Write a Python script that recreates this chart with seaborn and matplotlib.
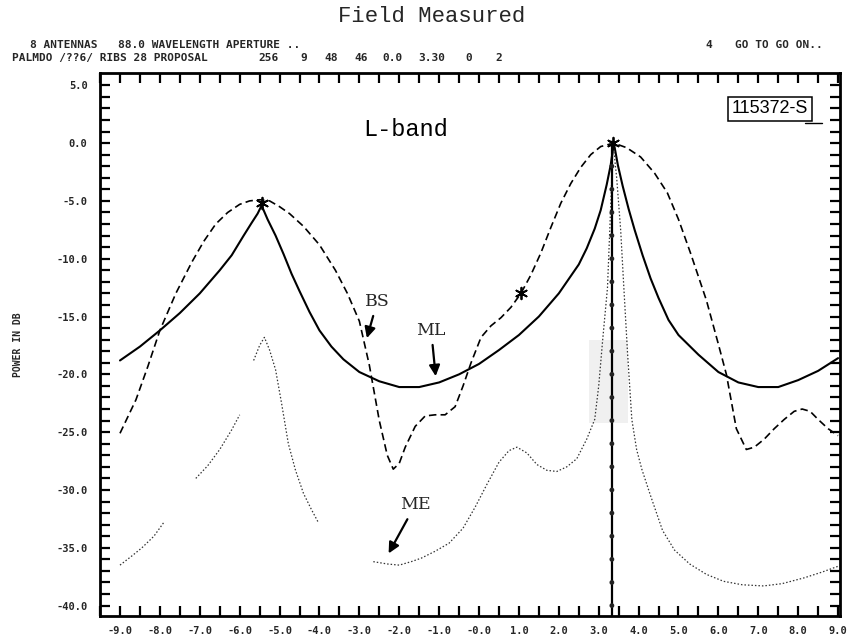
import numpy as np
import pandas as pd
import matplotlib
matplotlib.use("Agg")
import matplotlib.pyplot as plt
from matplotlib.patches import Rectangle
from matplotlib.lines import Line2D
import seaborn as sns

# ---- pattern data (angle in beamwidths, power in dB) ----
ml_angle = [-9.0, -8.5, -8.0, -7.5, -7.0, -6.5, -6.2, -5.9, -5.7, -5.55, -5.45, -5.3,
            -5.1, -4.9, -4.7, -4.5, -4.25, -4.0, -3.7, -3.4, -3.0, -2.5, -2.0, -1.5,
            -1.0, -0.5, 0.0, 0.5, 1.0, 1.5, 2.0, 2.5, 2.7, 2.9, 3.05, 3.2, 3.3, 3.38,
            3.48, 3.6, 3.75, 3.9, 4.1, 4.3, 4.5, 4.75, 5.0, 5.5, 6.0, 6.5, 7.0, 7.5,
            8.0, 8.5, 9.0]
ml_power = [-18.8, -17.6, -16.2, -14.7, -13.0, -11.0, -9.7, -8.0, -6.9, -6.1, -5.4, -6.6,
            -8.0, -9.6, -11.3, -12.8, -14.6, -16.2, -17.6, -18.7, -19.8, -20.6, -21.1, -21.1,
            -20.7, -20.0, -19.1, -17.9, -16.6, -15.0, -13.0, -10.5, -9.1, -7.4, -5.8, -3.6, -1.9, 0.0,
            -1.9, -3.7, -5.7, -7.5, -9.7, -11.7, -13.4, -15.3, -16.6, -18.3, -19.8, -20.7, -21.1, -21.1,
            -20.5, -19.7, -18.6]

bs_angle = [-9.0, -8.6, -8.3, -8.0, -7.6, -7.2, -6.9, -6.6, -6.3, -6.0, -5.75, -5.5,
            -5.25, -5.0, -4.75, -4.4, -4.0, -3.6, -3.3, -3.0, -2.75, -2.5, -2.3, -2.15,
            -2.0, -1.85, -1.6, -1.35, -1.1, -0.85, -0.6, -0.4, -0.2, 0.05, 0.3, 0.55,
            0.8, 1.05, 1.3, 1.55, 1.8, 2.05, 2.3, 2.55, 2.8, 3.05, 3.38, 3.7, 4.05,
            4.4, 4.72, 5.0, 5.3, 5.7, 6.0, 6.2, 6.45, 6.7, 6.9, 7.15, 7.4, 7.65, 7.9,
            8.1, 8.3, 8.5, 8.75, 9.0]
bs_power = [-25.1, -22.2, -19.3, -16.2, -13.0, -10.3, -8.5, -7.0, -6.0, -5.3, -5.0, -4.9,
            -5.0, -5.5, -6.1, -7.2, -8.8, -11.0, -13.0, -15.4, -19.2, -24.0, -27.0, -28.2,
            -27.7, -26.3, -24.5, -23.6, -23.5, -23.5, -22.8, -21.0, -19.0, -16.8, -15.8, -15.1,
            -14.2, -13.0, -11.4, -9.5, -7.3, -5.2, -3.5, -2.1, -1.0, -0.3, 0.0, -0.4, -1.2,
            -2.6, -4.3, -6.6, -9.5, -13.6, -17.4, -20.0, -24.7, -26.5, -26.3, -25.6, -24.7, -23.9, -23.2,
            -23.0, -23.2, -23.9, -24.7, -25.3]

# ME trace is plotted in pieces (pen lifts between them)
me_seg1_angle = [-9.0, -8.7, -8.45, -8.15, -7.9]
me_seg1_power = [-36.5, -35.7, -35.0, -34.0, -32.8]
me_seg2_angle = [-7.1, -6.8, -6.5, -6.2, -6.0]
me_seg2_power = [-29.0, -27.9, -26.5, -24.8, -23.5]
me_seg3_angle = [-5.65, -5.5, -5.38, -5.25, -5.1, -4.95, -4.78, -4.6, -4.4, -4.2, -4.03]
me_seg3_power = [-18.8, -17.5, -16.8, -17.9, -19.6, -22.5, -26.0, -28.3, -30.3, -31.7, -32.8]
me_seg4_angle = [-2.65, -2.3, -2.0, -1.7, -1.45, -1.1, -0.75, -0.4, -0.1, 0.2, 0.5, 0.75,
                 0.95, 1.2, 1.45, 1.7, 1.95, 2.2, 2.45, 2.7, 2.9, 3.0, 3.1, 3.22, 3.3, 3.36,
                 3.45, 3.55, 3.63, 3.72, 3.83, 3.95, 4.08, 4.3, 4.6, 4.9, 5.28, 5.7, 6.13,
                 6.6, 7.13, 7.6, 8.15, 8.6, 9.0]
me_seg4_power = [-36.2, -36.4, -36.5, -36.2, -35.9, -35.3, -34.6, -33.3, -31.5, -29.5, -27.6, -26.6,
                 -26.3, -26.8, -27.8, -28.3, -28.4, -28.0, -27.3, -25.6, -23.9, -21.0, -17.0, -12.5, -5.5, 0.0,
                 -3.0, -7.5, -12.5, -18.0, -23.9, -26.5, -28.2, -30.5, -33.5, -35.2, -36.4, -37.3, -37.9,
                 -38.2, -38.3, -38.1, -37.6, -37.1, -36.6]

# steering direction and measured levels along it
beam_angle = 3.33
beam_levels = [0, -2, -4, -6, -8, -10, -12, -14, -16, -18, -20, -22, -24, -26, -28,
               -30, -32, -34, -36, -38, -40]

# starred points
star_angle = [-5.45, 3.36, 1.05]
star_power = [-5.2, 0.0, -13.0]

x_ticks = [-9, -8, -7, -6, -5, -4, -3, -2, -1, 0, 1, 2, 3, 4, 5, 6, 7, 8, 9]
x_tick_labels = ["-9.0", "-8.0", "-7.0", "-6.0", "-5.0", "-4.0", "-3.0", "-2.0", "-1.0",
                 "-0.0", "1.0", "2.0", "3.0", "4.0", "5.0", "6.0", "7.0", "8.0", "9.0"]
y_ticks = [5, 0, -5, -10, -15, -20, -25, -30, -35, -40]
y_tick_labels = ["5.0", "0.0", "-5.0", "-10.0", "-15.0", "-20.0", "-25.0", "-30.0", "-35.0", "-40.0"]

# plotter header fields: (text, left edge in px, row)
header_fields = [
    ("8 ANTENNAS", 30, 0), ("88.0 WAVELENGTH APERTURE ..", 118, 0),
    ("4", 705, 0), ("GO TO GO ON..", 735, 0),
    ("PALMDO /??6/ RIBS 28 PROPOSAL", 12, 1), ("256", 258, 1), ("9", 300, 1),
    ("48", 324, 1), ("46", 354, 1), ("0.0", 382, 1), ("3.30", 418, 1),
    ("0", 465, 1), ("2", 495, 1),
]

# ---- figure ----
sns.set_theme(style="white")
plt.rcParams["font.family"] = ["DejaVu Sans"]

fig = plt.figure(figsize=(8.58, 6.41), dpi=100)
ax = fig.add_axes([0.1166, 0.039, 0.8625, 0.8471])

ml_df = pd.DataFrame({"angle": ml_angle, "power": ml_power})
bs_df = pd.DataFrame({"angle": bs_angle, "power": bs_power})
me_parts = []
for k, (a, p) in enumerate([(me_seg1_angle, me_seg1_power), (me_seg2_angle, me_seg2_power),
                            (me_seg3_angle, me_seg3_power), (me_seg4_angle, me_seg4_power)]):
    me_parts.append(pd.DataFrame({"angle": a, "power": p, "seg": k}))
me_df = pd.concat(me_parts, ignore_index=True)

sns.lineplot(data=ml_df, x="angle", y="power", sort=False, estimator=None,
             color="black", linewidth=1.5, ax=ax)
sns.lineplot(data=bs_df, x="angle", y="power", sort=False, estimator=None,
             color="black", linewidth=1.2, linestyle=(0, (4.5, 2.5)), ax=ax)
sns.lineplot(data=me_df, x="angle", y="power", units="seg", sort=False, estimator=None,
             color="#333333", linewidth=0.9, linestyle=(0, (1.2, 1.6)), ax=ax)

# steering line with level markers
beam_df = pd.DataFrame({"angle": [beam_angle] * len(beam_levels), "power": beam_levels})
ax.plot([beam_angle, beam_angle], [max(beam_levels), -40.9], color="black", lw=1.6, zorder=3)
sns.scatterplot(data=beam_df, x="angle", y="power", color="#222222", s=12,
                marker="o", edgecolor="none", ax=ax, zorder=4)

star_df = pd.DataFrame({"angle": star_angle, "power": star_power})
sns.scatterplot(data=star_df, x="angle", y="power", marker=(6, 2, 0), s=70,
                color="black", linewidth=1.3, ax=ax, zorder=5)

# faint smudge region
ax.add_patch(Rectangle((2.75, -24.2), 0.98, 7.2, facecolor="#e2e2e2", alpha=0.5,
                       edgecolor="none", zorder=1))

# ---- axes styling ----
ax.set_xlim(-9.45, 9.05)
ax.set_ylim(-40.9, 6.06)
ax.set_xticks(x_ticks)
ax.set_xticklabels(x_tick_labels)
ax.set_yticks(y_ticks)
ax.set_yticklabels(y_tick_labels)
ax.set_xticks(np.arange(-9.5, 9.01, 0.5), minor=True)
ax.set_yticks(np.arange(-40, 6, 1), minor=True)
for lab in ax.get_xticklabels() + ax.get_yticklabels():
    lab.set_fontfamily("DejaVu Sans Mono")
    lab.set_fontweight("bold")
    lab.set_fontsize(7.5)
ax.tick_params(axis="both", which="both", direction="in", top=True, right=True,
               bottom=True, left=True, color="black", width=1.6)
ax.tick_params(axis="both", which="major", length=7)
ax.tick_params(axis="both", which="minor", length=7)
ax.tick_params(axis="x", which="major", pad=7)
ax.tick_params(axis="y", which="major", pad=9)
for s in ax.spines.values():
    s.set_linewidth(2.0)
    s.set_color("black")
ax.set_xlabel("")
ax.set_ylabel("POWER IN DB", fontfamily="DejaVu Sans Mono", fontweight="bold",
              fontsize=7, labelpad=24)

# ---- annotations ----
ax.text(-1.83, 1.2, "L-band", fontfamily="Liberation Mono", fontsize=17,
        ha="center", va="center", color="black")
ax.text(7.3, 2.95, "115372-S", fontfamily="Liberation Sans", fontsize=13,
        ha="center", va="center", color="black",
        bbox=dict(boxstyle="square,pad=0.2", facecolor="white", edgecolor="black", lw=1.1))
fig.add_artist(Line2D([805 / 858, 822 / 858], [1 - 123 / 641, 1 - 123 / 641],
                      color="black", lw=1.0))

arrow = dict(arrowstyle="-|>", color="black", lw=1.6, mutation_scale=16)
ax.annotate("BS", xy=(-2.83, -17.1), xytext=(-2.55, -13.7), fontfamily="DejaVu Serif",
            fontsize=12.5, ha="center", va="center", arrowprops=arrow)
ax.annotate("ML", xy=(-1.08, -20.4), xytext=(-1.2, -16.2), fontfamily="DejaVu Serif",
            fontsize=12.5, ha="center", va="center", arrowprops=arrow)
ax.annotate("ME", xy=(-2.3, -35.7), xytext=(-1.6, -31.3), fontfamily="DejaVu Serif",
            fontsize=12.5, ha="center", va="center", arrowprops=arrow)

# ---- title and plotter header ----
fig.text(0.503, 1 - 16 / 641, "Field Measured", fontfamily="Liberation Mono",
         fontsize=16, ha="center", va="center")
hdr = dict(fontfamily="DejaVu Sans Mono", fontweight="bold", fontsize=8, va="center")
for text, left, row in header_fields:
    fig.text(left / 858, 1 - (45 + 13 * row) / 641, text, **hdr)

fig.savefig("out.png", dpi=100, facecolor="white")
